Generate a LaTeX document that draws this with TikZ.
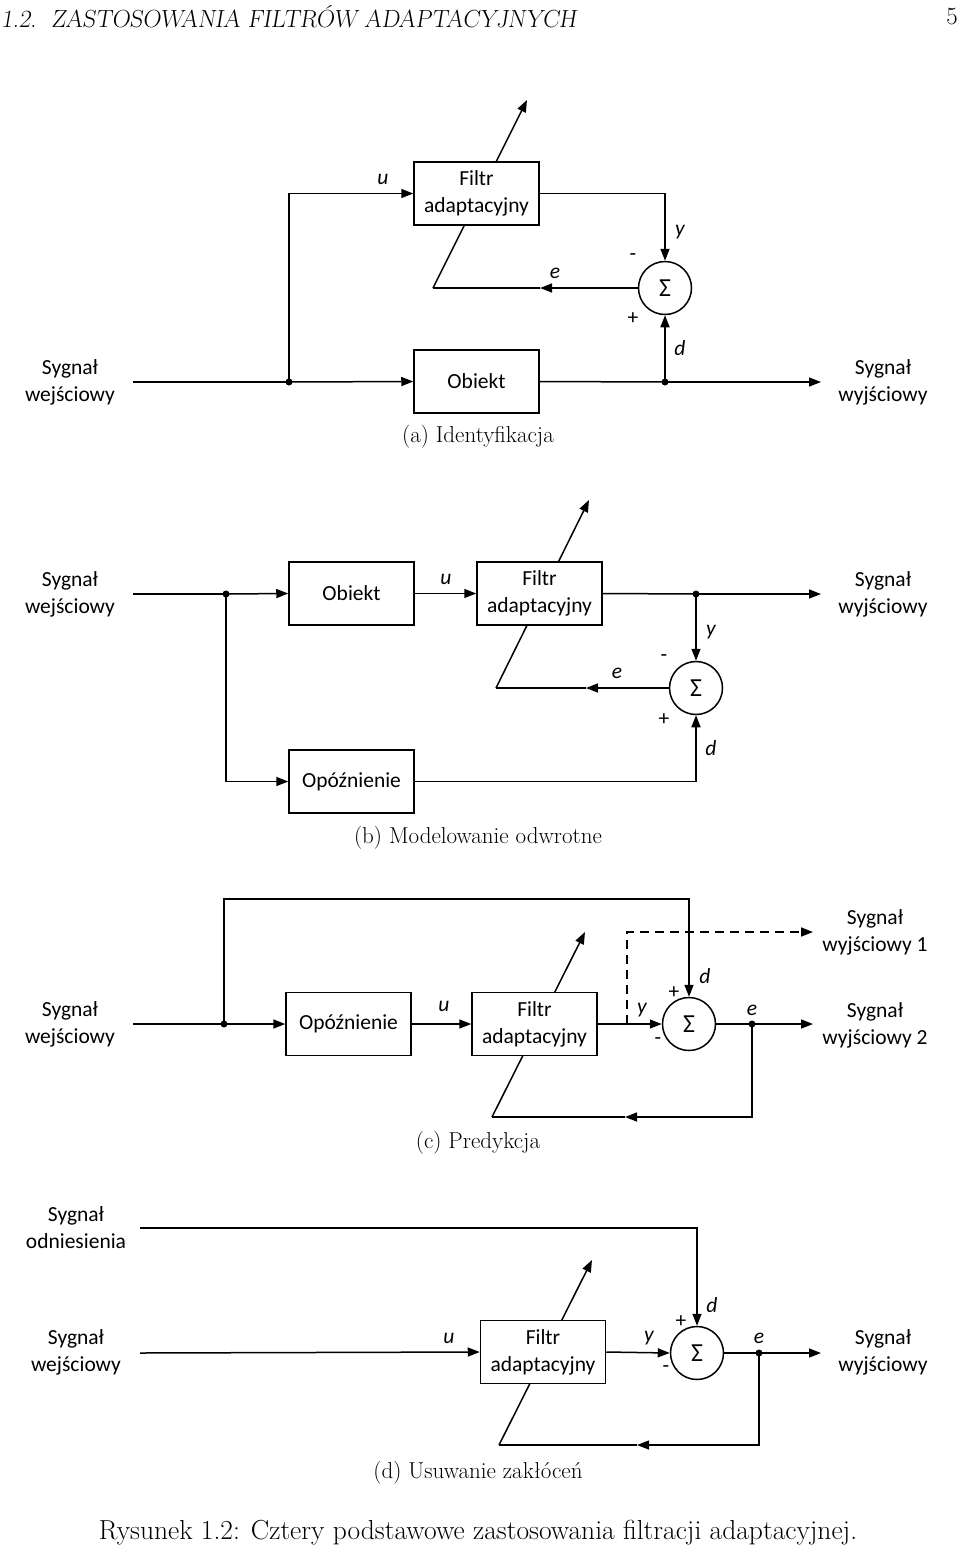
\documentclass[tikz,border=0pt]{standalone}
\usepackage{fontspec}
\newfontfamily\carl{Carlito}
\usetikzlibrary{arrows.meta}
\begin{document}
\begin{tikzpicture}[x=1pt,y=-1pt,
  wire/.style={line width=1.5pt},
  arr/.style={wire,-{Triangle[length=12pt,width=9pt]}},
  dsh/.style={wire,dash pattern=on 9pt off 6pt},
  box/.style={draw,line width=1.5pt,fill=white,minimum width=125pt,minimum height=63pt,inner sep=0pt,align=center,font=\carl\fontsize{21.5}{27}\selectfont},
  sumn/.style={draw,circle,line width=1.5pt,fill=white,minimum size=53pt,inner sep=0pt,font=\carl\fontsize{26}{26}\selectfont},
  lbl/.style={align=center,inner sep=0pt,font=\carl\fontsize{21.5}{27}\selectfont},
  var/.style={inner sep=0pt,font=\carl\itshape\fontsize{21.5}{21.5}\selectfont},
  sgn/.style={inner sep=0pt,font=\carl\fontsize{21.5}{21.5}\selectfont},
  dot/.style={circle,fill,inner sep=0pt,minimum size=7pt},
  capt/.style={inner sep=0pt,font=\fontsize{23}{26}\selectfont}
]
\useasboundingbox (0,0) rectangle (960,1550);

% header
\node[anchor=west,inner sep=0pt,font=\fontsize{24.8}{28}\selectfont\slshape] (hdr) at (1,17) {1.2.\ \ ZASTOSOWANIA FILTRÓW ADAPTACYJNYCH};
\node[anchor=east,inner sep=0pt,font=\fontsize{24.8}{28}\selectfont] (pg) at (958,17) {5};

% ================= (a) =================
\coordinate (aeE) at (433,288);
\coordinate (aT) at (527,100);
\draw[arr] (aeE) -- (aT);
\node[box] (fa) at (476.5,193.5) {Filtr\\adaptacyjny};
\node[box] (ob) at (476.5,381.5) {Obiekt};
\node[sumn] (sa) at (665,288) {Σ};
\node[lbl] (inA) at (70,382) {Sygnał\\wejściowy};
\node[lbl] (outA) at (883,382) {Sygnał\\wyjściowy};
\node[dot] (dA1) at (289,382) {};
\node[dot] (dA2) at (665,382) {};
\coordinate (a0) at (133,382);
\coordinate (aend) at (821,382);
\coordinate (aeM) at (540,288);
\draw[wire] (a0) -- (dA1.center);
\draw[arr] (dA1.center) -- (ob.west);
\draw[wire] (ob.east) -- (dA2.center);
\draw[arr] (dA2.center) -- (aend);
\draw[arr] (dA1.center) |- (fa.west);
\draw[arr] (fa.east) -| (sa.north);
\draw[arr] (dA2.center) -- (sa.south);
\draw[arr] (sa.west) -- (aeM);
\draw[wire] (aeM) -- (aeE);
\node[var] (ua) at (383,179) {u};
\node[var] (ya) at (680,232) {y};
\node[sgn] (ma) at (633,257) {-};
\node[var] (ea) at (555,273) {e};
\node[sgn] (pa) at (633,319) {+};
\node[var] (da) at (680,348) {d};
\node[capt] (capa) at (478,437) {(a) Identyfikacja};

% ================= (b) =================
\coordinate (beE) at (496,688);
\coordinate (bT) at (589,500);
\draw[arr] (beE) -- (bT);
\node[box] (obB) at (351.5,593.5) {Obiekt};
\node[box] (opB) at (351.5,781.5) {Opóźnienie};
\node[box] (faB) at (539.5,593.5) {Filtr\\adaptacyjny};
\node[sumn] (sB) at (696,688) {Σ};
\node[lbl] (inB) at (70,594) {Sygnał\\wejściowy};
\node[lbl] (outB) at (883,594) {Sygnał\\wyjściowy};
\node[dot] (dB1) at (226,594) {};
\node[dot] (dB2) at (696,594) {};
\coordinate (b0) at (133,594);
\coordinate (bend) at (821,594);
\coordinate (beM) at (586,688);
\draw[wire] (b0) -- (dB1.center);
\draw[arr] (dB1.center) -- (obB.west);
\draw[arr] (dB1.center) |- (opB.west);
\draw[arr] (obB.east) -- (faB.west);
\draw[wire] (faB.east) -- (dB2.center);
\draw[arr] (dB2.center) -- (bend);
\draw[arr] (dB2.center) -- (sB.north);
\draw[arr] (opB.east) -| (sB.south);
\draw[arr] (sB.west) -- (beM);
\draw[wire] (beM) -- (beE);
\node[var] (ub) at (446,579) {u};
\node[var] (yb) at (711,632) {y};
\node[sgn] (mb) at (664,658) {-};
\node[var] (eb) at (617,673) {e};
\node[sgn] (pb) at (664,720) {+};
\node[var] (db) at (711,748) {d};
\node[capt] (capb) at (478,838) {(b) Modelowanie odwrotne};

% ================= (c) =================
\coordinate (ceE) at (492,1117);
\coordinate (cT) at (585,932);
\draw[arr] (ceE) -- (cT);
\node[box] (opC) at (348.5,1024) {Opóźnienie};
\node[box] (faC) at (534.5,1024) {Filtr\\adaptacyjny};
\node[sumn] (sC) at (689,1024) {Σ};
\node[lbl] (inC) at (70,1024) {Sygnał\\wejściowy};
\node[lbl] (outC1) at (875,932) {Sygnał\\wyjściowy 1};
\node[lbl] (outC2) at (875,1025) {Sygnał\\wyjściowy 2};
\node[dot] (dC1) at (224,1024) {};
\node[dot] (dC2) at (752,1024) {};
\coordinate (c0) at (133,1024);
\coordinate (cTop) at (689,899);
\coordinate (cB) at (627,1024);
\coordinate (cO1) at (813,932);
\coordinate (cO2) at (813,1024);
\coordinate (cM) at (625,1117);
\draw[wire] (c0) -- (dC1.center);
\draw[arr] (dC1.center) -- (opC.west);
\draw[arr] (opC.east) -- (faC.west);
\draw[arr] (faC.east) -- (sC.west);
\draw[arr] (dC1.center) |- (cTop) -- (sC.north);
\draw[dsh,-{Triangle[length=12pt,width=9pt]}] (cB) |- (cO1);
\draw[wire] (sC.east) -- (dC2.center);
\draw[arr] (dC2.center) -- (cO2);
\draw[arr] (dC2.center) |- (cM);
\draw[wire] (cM) -- (ceE);
\node[var] (uc) at (444,1006) {u};
\node[var] (yc) at (642,1010) {y};
\node[sgn] (pc) at (674,993) {+};
\node[var] (dc) at (705,976) {d};
\node[sgn] (mc) at (658,1041) {-};
\node[var] (ec) at (752,1010) {e};
\node[capt] (capc) at (478,1143) {(c) Predykcja};

% ================= (d) =================
\coordinate (deE) at (499,1445);
\coordinate (dT) at (592,1260);
\draw[arr] (deE) -- (dT);
\node[box] (faD) at (543,1352) {Filtr\\adaptacyjny};
\node[sumn] (sD) at (697,1353) {Σ};
\node[lbl] (refD) at (76,1228) {Sygnał\\odniesienia};
\node[lbl] (inD) at (76,1352) {Sygnał\\wejściowy};
\node[lbl] (outD) at (883,1352) {Sygnał\\wyjściowy};
\node[dot] (dD) at (759,1353) {};
\coordinate (d0) at (140,1353);
\coordinate (dTop0) at (140,1228);
\coordinate (dO) at (821,1353);
\coordinate (dM) at (637,1445);
\draw[arr] (dTop0) -| (sD.north);
\draw[arr] (d0) -- (faD.west);
\draw[arr] (faD.east) -- (sD.west);
\draw[wire] (sD.east) -- (dD.center);
\draw[arr] (dD.center) -- (dO);
\draw[arr] (dD.center) |- (dM);
\draw[wire] (dM) -- (deE);
\node[var] (ud) at (449,1338) {u};
\node[var] (yd) at (649,1338) {y};
\node[sgn] (pd) at (681,1322) {+};
\node[var] (dd) at (712,1305) {d};
\node[sgn] (md) at (666,1369) {-};
\node[var] (ed) at (759,1338) {e};
\node[capt] (capd) at (478,1473) {(d) Usuwanie zakłóceń};

\node[inner sep=0pt,font=\fontsize{27.5}{30}\selectfont] (mcap) at (478,1533) {Rysunek 1.2: Cztery podstawowe zastosowania filtracji adaptacyjnej.};
\end{tikzpicture}
\end{document}
